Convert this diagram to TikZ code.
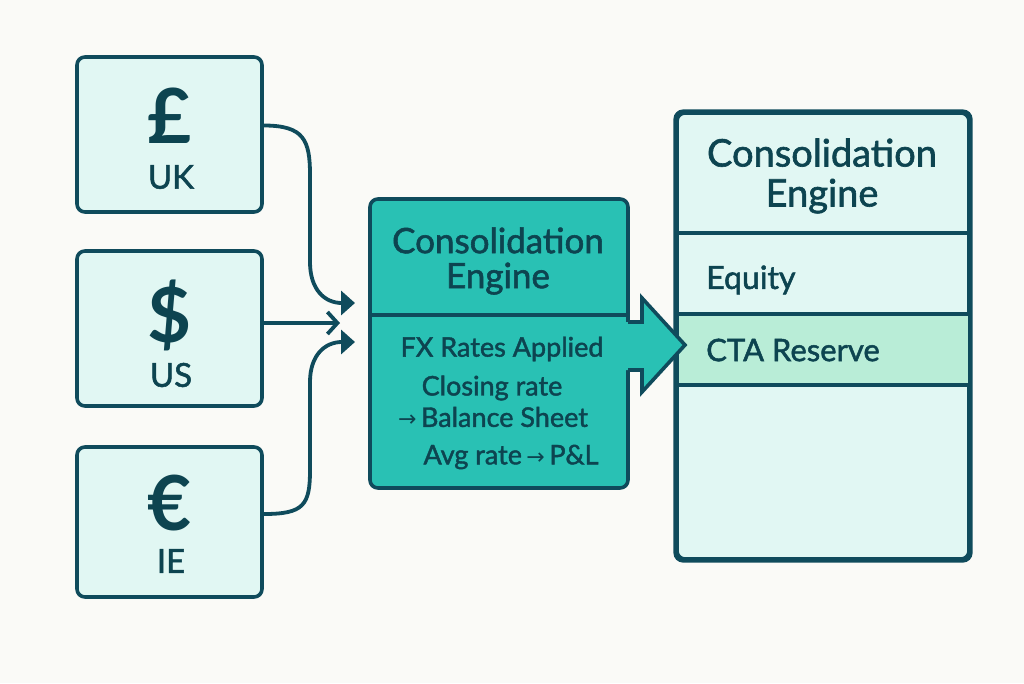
\documentclass[tikz,border=0pt]{standalone}
\usepackage{fontspec}
\setmainfont{Lato}[UprightFeatures={FakeBold=1.6}]
\newfontfamily\symfont{DejaVu Sans}
\usetikzlibrary{arrows.meta}
\definecolor{bg}{HTML}{FAFAF7}
\definecolor{dark}{HTML}{0F4B5C}
\definecolor{ink}{HTML}{0D4450}
\definecolor{mint}{HTML}{E1F7F3}
\definecolor{tealfill}{HTML}{29C1B4}
\definecolor{ctafill}{HTML}{B9EDD7}
\tikzset{
  srcbox/.style={draw=dark, line width=3.6pt, fill=mint, rounded corners=8pt, minimum width=185pt, minimum height=155pt},
  conn/.style={draw=dark, line width=3.8pt},
  txt/.style={text=ink, inner sep=0pt},
  sym/.style={text=ink, inner sep=0pt, text depth=0pt, font=\fs{76}\bfseries},
}
\newcommand{\fs}[1]{\fontsize{#1}{#1}\selectfont}
\begin{document}
\begin{tikzpicture}[x=1pt,y=-1pt]
\useasboundingbox[fill=bg] (0,0) rectangle (1024,683);
% source boxes
\node[srcbox] (uk) at (169.5,134.5) {};
\node[srcbox] (us) at (169.5,328.5) {};
\node[srcbox, minimum height=150pt] (ie) at (169.5,522) {};
\node[sym] (ukc) at (170,116) {£};
\node[txt, font=\fs{33}] (ukl) at (171,177) {UK};
\node[sym] (usc) at (170,311) {\$};
\node[txt, font=\fs{33}] (usl) at (171,375) {US};
\node[sym] (iec) at (170,503) {€};
\node[txt, font=\fs{33}] (iel) at (171,561) {IE};
% connector ends
\coordinate (ukin) at (355,303);
\coordinate (usin) at (340,323);
\coordinate (iein) at (355,342);
\draw[conn, -{Triangle[length=14pt,width=24pt]}] ([yshift=9pt]uk.east) .. controls +(40,0) and (310,140) .. (310,175) -- (310,262) .. controls (310,290) and (325,303) .. (ukin);
\draw[conn, -{Straight Barb[length=10pt,width=22pt]}] ([yshift=5.5pt]us.east) -- (usin);
\draw[conn, -{Triangle[length=14pt,width=24pt]}] ([yshift=8pt]ie.east) .. controls +(40,0) and (310,505) .. (310,470) -- (310,382) .. controls (310,355) and (325,342) .. (iein);
% middle engine
\node[draw=dark, line width=3.6pt, fill=tealfill, rounded corners=8pt, minimum width=258pt, minimum height=289pt] (eng) at (499,343.5) {};
\draw[dark, line width=3.6pt] (eng.west |- 0,315) -- (eng.east |- 0,315);
\node[txt, font=\fs{35}, align=center] (engt) at (498,261) {Consolidation\\[0pt]Engine};
\node[txt, font=\fs{27}] (l1) at (502,349) {FX Rates Applied};
\node[txt, font=\fs{27}] (l2) at (492,388) {Closing rate};
\node[txt, font=\fs{27}] (l3) at (493,417) {{\symfont\fs{22}→}\,Balance Sheet};
\node[txt, font=\fs{27}] (l4) at (511,457) {Avg rate\,{\symfont\fs{22}→}\,P\&L};
% right box
\node[draw=dark, line width=3.6pt, fill=mint, rounded corners=8pt, minimum width=292pt, minimum height=446pt] (rb) at (823,336) {};
\fill[ctafill] (678.5,314) rectangle (967.5,385);
\draw[dark, line width=3.6pt, rounded corners=8pt] (rb.north west) rectangle (rb.south east);
\draw[dark, line width=3.6pt] (rb.west |- 0,233) -- (rb.east |- 0,233);
\draw[dark, line width=3.6pt] (rb.west |- 0,314) -- (rb.east |- 0,314);
\draw[dark, line width=3.6pt] (rb.west |- 0,385) -- (rb.east |- 0,385);
\node[txt, font=\fs{38}, align=center] (rbt) at (822,176) {Consolidation\\[2pt]Engine};
\node[txt, font=\fs{32}, anchor=west] (eq) at (706,280) {Equity};
\node[txt, font=\fs{31}, anchor=west] (cta) at (706,350) {CTA Reserve};
% big arrow
\fill[tealfill] (626,322) -- (642,322) -- (642,298) -- (685,345) -- (642,392) -- (642,370) -- (626,370) -- cycle;
\draw[dark, line width=3.6pt, line join=miter] (628,322) -- (642,322) -- (642,298) -- (685,345) -- (642,392) -- (642,370) -- (628,370);
\end{tikzpicture}
\end{document}
